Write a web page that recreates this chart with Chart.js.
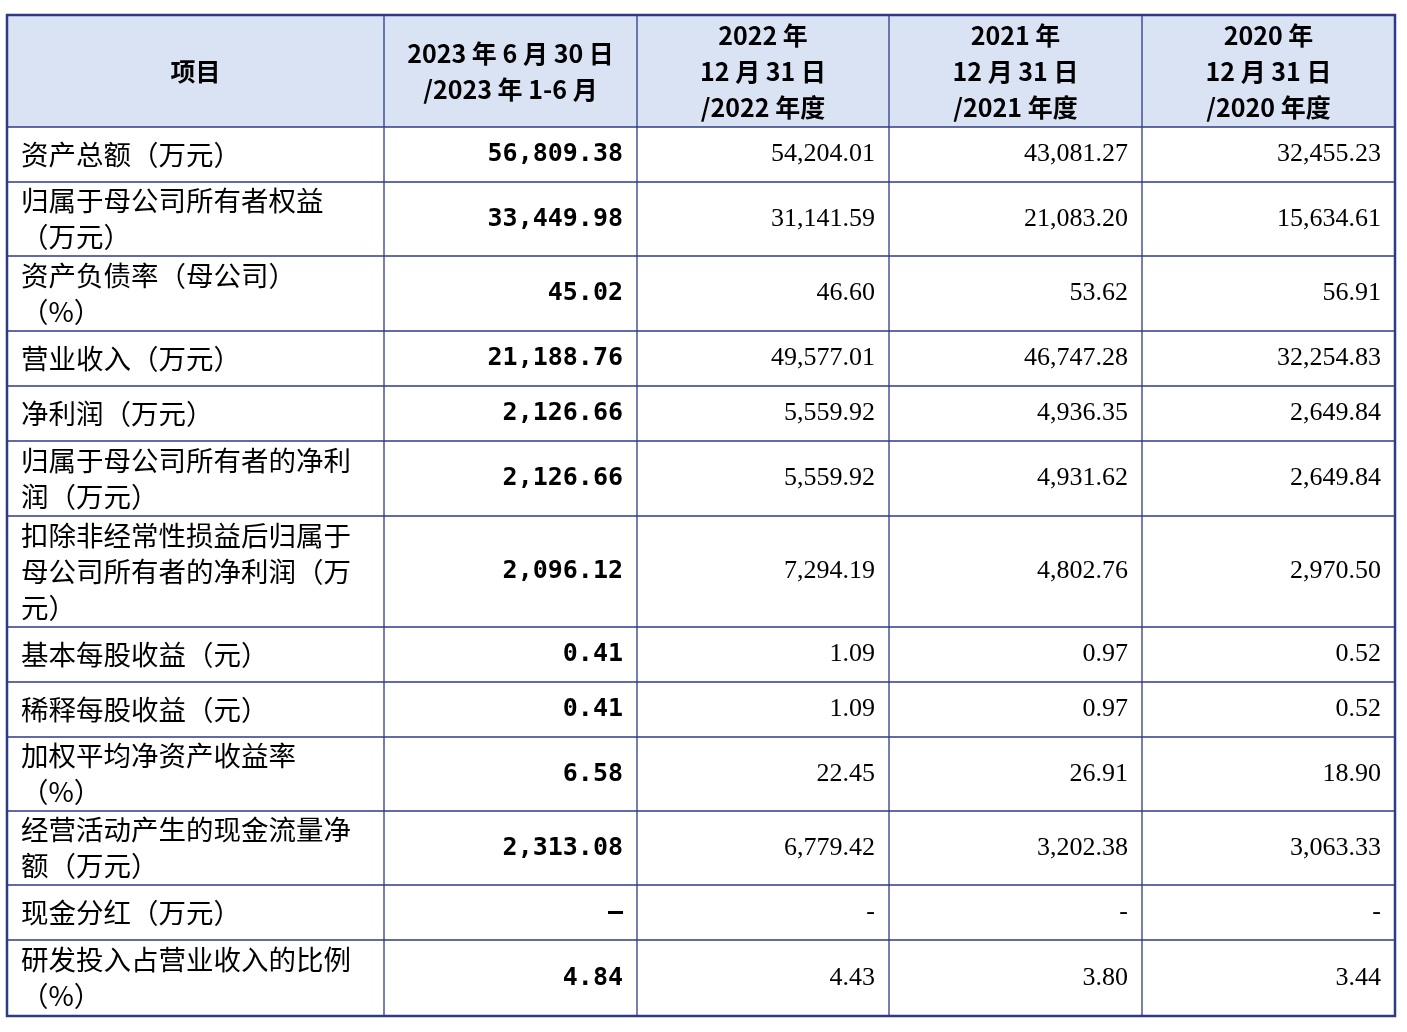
<!DOCTYPE html>
<html><head><meta charset="utf-8">
<script src="https://cdn.jsdelivr.net/npm/chart.js@4/dist/chart.umd.min.js"></script>
<style>html,body{margin:0;background:#fff}#wrap{width:1407px;height:1032px}</style>
</head><body><div id="wrap"><canvas id="c"></canvas></div>
<script>
const headers = ["项目", "2023 年 6 月 30 日\n/2023 年 1-6 月", "2022 年\n12 月 31 日\n/2022 年度", "2021 年\n12 月 31 日\n/2021 年度", "2020 年\n12 月 31 日\n/2020 年度"];
const items = [
  "资产总额（万元）", "归属于母公司所有者权益\n（万元）", "资产负债率（母公司）\n（%）", "营业收入（万元）",
  "净利润（万元）", "归属于母公司所有者的净利\n润（万元）", "扣除非经常性损益后归属于\n母公司所有者的净利润（万\n元）",
  "基本每股收益（元）", "稀释每股收益（元）", "加权平均净资产收益率\n（%）", "经营活动产生的现金流量净\n额（万元）",
  "现金分红（万元）", "研发投入占营业收入的比例\n（%）"
];
const v2023h1 = ["56,809.38","33,449.98","45.02","21,188.76","2,126.66","2,126.66","2,096.12","0.41","0.41","6.58","2,313.08","–","4.84"];
const v2022 = ["54,204.01","31,141.59","46.60","49,577.01","5,559.92","5,559.92","7,294.19","1.09","1.09","22.45","6,779.42","-","4.43"];
const v2021 = ["43,081.27","21,083.20","53.62","46,747.28","4,936.35","4,931.62","4,802.76","0.97","0.97","26.91","3,202.38","-","3.80"];
const v2020 = ["32,455.23","15,634.61","56.91","32,254.83","2,649.84","2,649.84","2,970.50","0.52","0.52","18.90","3,063.33","-","3.44"];

// layout (table grid in page units)
const colEdges = [7, 384, 637, 889, 1142, 1395];
const rowEdges = [15, 127, 182, 256, 331, 386, 441, 516, 627, 682, 737, 811, 885, 940, 1016];

const tablePlugin = {
  id: 'table',
  afterDraw(chart) {
    const ctx = chart.ctx, xs = chart.scales.x, ys = chart.scales.y;
    const X = v => xs.getPixelForValue(v), Y = v => ys.getPixelForValue(v);
    ctx.save();
    ctx.fillStyle = '#dae3f3';
    ctx.fillRect(X(colEdges[0]), Y(rowEdges[0]), X(colEdges[5]) - X(colEdges[0]), Y(rowEdges[1]) - Y(rowEdges[0]));
    ctx.strokeStyle = '#2e3a87'; ctx.lineWidth = 1.3;
    rowEdges.forEach(r => { ctx.beginPath(); ctx.moveTo(X(colEdges[0]), Y(r)); ctx.lineTo(X(colEdges[5]), Y(r)); ctx.stroke(); });
    colEdges.forEach(c => { ctx.beginPath(); ctx.moveTo(X(c), Y(rowEdges[0])); ctx.lineTo(X(c), Y(rowEdges[14])); ctx.stroke(); });
    ctx.lineWidth = 2.5;
    ctx.strokeRect(X(colEdges[0]), Y(rowEdges[0]), X(colEdges[5]) - X(colEdges[0]), Y(rowEdges[14]) - Y(rowEdges[0]));
    ctx.fillStyle = '#000'; ctx.textBaseline = 'middle';
    const lh = 36;
    function multi(txt, x, yc, align) {
      const lines = txt.split('\n');
      ctx.textAlign = align;
      lines.forEach((l, i) => ctx.fillText(l, x, yc + (i - (lines.length - 1) / 2) * lh));
    }
    ctx.font = 'bold 25px "Noto Sans CJK SC", "DejaVu Sans"';
    headers.forEach((h, i) => multi(h, (X(colEdges[i]) + X(colEdges[i + 1])) / 2, (Y(rowEdges[0]) + Y(rowEdges[1])) / 2, 'center'));
    const cols = [v2023h1, v2022, v2021, v2020];
    items.forEach((it, r) => {
      const yc = (Y(rowEdges[r + 1]) + Y(rowEdges[r + 2])) / 2;
      ctx.font = '27.5px "Noto Sans CJK SC"';
      multi(it, X(colEdges[0]) + 14, yc, 'left');
      cols.forEach((col, c) => {
        ctx.font = c === 0 ? 'bold 25px "DejaVu Sans Mono", "Liberation Mono"' : '26px "Liberation Serif"';
        multi(col[r], X(colEdges[c + 2]) - 14, yc, 'right');
      });
    });
    ctx.restore();
  }
};

new Chart(document.getElementById('c'), {
  type: 'scatter',
  data: { datasets: [{ data: [] }] },
  options: {
    responsive: true, maintainAspectRatio: false, animation: false,
    layout: { padding: 0 },
    plugins: { legend: { display: false }, tooltip: { enabled: false } },
    scales: {
      x: { type: 'linear', min: 0, max: 1407, display: false },
      y: { type: 'linear', min: 0, max: 1032, reverse: true, display: false }
    }
  },
  plugins: [tablePlugin]
});
</script></body></html>
